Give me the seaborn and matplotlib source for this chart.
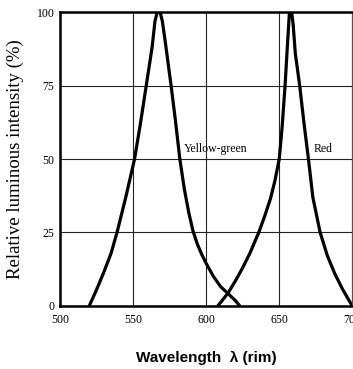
import numpy as np
import pandas as pd
import matplotlib
matplotlib.use('Agg')
import matplotlib.pyplot as plt
import seaborn as sns

# values
yg_wl = [520, 525, 530, 535, 539, 545, 551, 555, 559, 563, 565, 566.5, 568.5, 570, 572, 576, 579, 582,
         585, 588, 591, 594, 597, 600, 605, 610, 615, 620, 623]
yg_int = [0, 5.5, 11.5, 18, 25, 37, 50, 62, 75, 88, 97, 100, 100, 97, 90, 75, 63, 50,
          40, 32, 25.5, 21, 17.5, 14.5, 10, 6.5, 4.2, 1.8, 0]
red_wl = [608, 612, 615, 620, 625, 630, 636, 640, 644, 647, 650, 652, 654, 656, 657, 658.5, 659.5, 661,
          664, 667, 670, 673, 678, 683, 688, 693, 697, 700]
red_int = [0, 2.5, 4.4, 8.5, 13, 18, 25, 30.5, 36.5, 42.5, 50, 61, 75, 92, 100, 100, 96, 86,
           75, 62, 50, 37, 25, 17, 11, 6, 2.5, 0]
x_ticks = [500, 550, 600, 650, 700]
y_ticks = [0, 25, 50, 75, 100]

df = pd.concat([
    pd.DataFrame({'wl': yg_wl, 'intensity': yg_int, 'led': 'Yellow-green'}),
    pd.DataFrame({'wl': red_wl, 'intensity': red_int, 'led': 'Red'}),
])

sns.set_style('white', {'text.color': 'black', 'axes.labelcolor': 'black',
                        'xtick.color': 'black', 'ytick.color': 'black'})
serif = ['Liberation Serif', 'DejaVu Serif']

fig = plt.figure(figsize=(3.53, 3.69), dpi=100)
ax = fig.add_axes([0.170, 0.171, 0.828, 0.796])

for name, grp in df.groupby('led', sort=False):
    sns.lineplot(data=grp, x='wl', y='intensity', ax=ax, color='black', lw=2.3,
                 sort=False, legend=False)

ax.set_xlim(500, 700)
ax.set_ylim(0, 100)
ax.set_xticks(x_ticks)
ax.set_yticks(y_ticks)
ax.set_xticklabels([str(t) for t in x_ticks], family=serif, fontsize=8.5)
ax.set_yticklabels([str(t) for t in y_ticks], family=serif, fontsize=8.5)
ax.tick_params(axis='both', length=2, width=0.8, color='black', pad=2)
ax.tick_params(axis='x', pad=4)

ax.grid(True, color='#222222', lw=0.8)
ax.set_axisbelow(True)
for s in ['left', 'bottom', 'top']:
    ax.spines[s].set_color('black')
    ax.spines[s].set_linewidth(1.8)
ax.spines['right'].set_color('#555555')
ax.spines['right'].set_linewidth(0.8)

ax.text(584.5, 51.5, 'Yellow-green', family=serif, fontsize=8.5, va='bottom', ha='left')
ax.text(673.5, 51.5, 'Red', family=serif, fontsize=8.5, va='bottom', ha='left')

ax.set_ylabel('Relative luminous intensity (%)', family=serif, fontsize=13.5, labelpad=9)
ax.set_xlabel('Wavelength  λ (rim)', family=['Liberation Sans', 'DejaVu Sans'],
              fontweight='bold', fontsize=11, labelpad=18)

fig.savefig('out.png', dpi=100)
